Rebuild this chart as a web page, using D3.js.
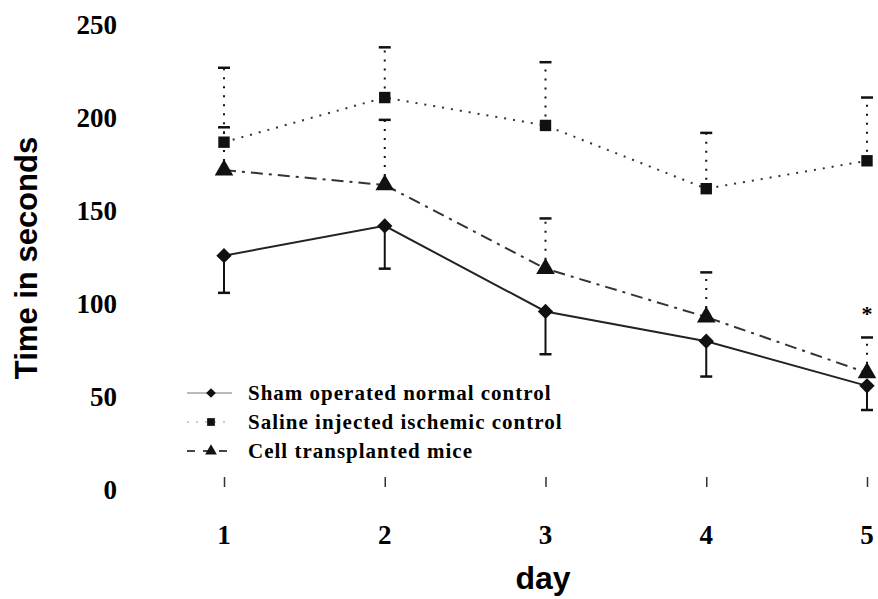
<!DOCTYPE html>
<html>
<head>
<meta charset="utf-8">
<script src="https://cdn.jsdelivr.net/npm/d3@7"></script>
<style>
  body { margin: 0; background: #fff; }
  svg { display: block; }
</style>
</head>
<body>
<svg id="chart" width="878" height="599"></svg>
<script>
// values
var days = [1, 2, 3, 4, 5];
var sham = [126, 142, 96, 80, 56];
var shamLow = [106, 119, 73, 61, 43];
var saline = [187, 211, 196, 162, 177];
var salineHigh = [227, 238, 230, 192, 211];
var cell = [172, 164, 119, 93, 63];
var cellHigh = [195, 199, 146, 117, 82];
var yTicks = [0, 50, 100, 150, 200, 250];
var legendLabels = ["Sham operated normal control", "Saline injected ischemic control", "Cell transplanted mice"];

var svg = d3.select("#chart");

var x = d3.scaleLinear().domain([1, 5]).range([224, 867]);
var y = d3.scaleLinear().domain([0, 250]).range([490, 25]);

// x ticks, no axis line
var xAxis = svg.append("g")
    .attr("transform", "translate(0,477)")
    .call(d3.axisBottom(x).tickValues(days).tickSize(10).tickFormat(""));
xAxis.select(".domain").remove();
xAxis.selectAll(".tick line").attr("stroke", "#333").attr("stroke-width", 1.5);

svg.selectAll(".xlab")
    .data(days)
    .enter().append("text")
    .attr("class", "xlab")
    .attr("x", function(d) { return x(d); })
    .attr("y", 535)
    .attr("dy", "0.35em")
    .attr("text-anchor", "middle")
    .style("font-family", "'Liberation Serif', 'Times New Roman', serif")
    .style("font-weight", "bold")
    .style("font-size", "27px")
    .text(function(d) { return d; });

svg.selectAll(".ylab")
    .data(yTicks)
    .enter().append("text")
    .attr("class", "ylab")
    .attr("x", 117)
    .attr("y", function(d) { return y(d); })
    .attr("dy", "0.35em")
    .attr("text-anchor", "end")
    .style("font-family", "'Liberation Serif', 'Times New Roman', serif")
    .style("font-weight", "bold")
    .style("font-size", "27px")
    .text(function(d) { return d; });

svg.append("text")
    .attr("x", 543)
    .attr("y", 578)
    .attr("dy", "0.35em")
    .attr("text-anchor", "middle")
    .style("font-family", "'Liberation Sans', Arial, sans-serif")
    .style("font-weight", "bold")
    .style("font-size", "32px")
    .text("day");

svg.append("text")
    .attr("transform", "translate(26,258) rotate(-90)")
    .attr("dy", "0.35em")
    .attr("text-anchor", "middle")
    .style("font-family", "'Liberation Sans', Arial, sans-serif")
    .style("font-weight", "bold")
    .style("font-size", "31px")
    .text("Time in seconds");

function drawSeries(vals, ends, dash, barDash, lineColor, shape, size) {
    var pts = days.map(function(d, i) { return { day: d, v: vals[i], e: ends[i] }; });
    var g = svg.append("g");

    g.selectAll(".err")
        .data(pts)
        .enter().append("line")
        .attr("x1", function(d) { return x(d.day); })
        .attr("x2", function(d) { return x(d.day); })
        .attr("y1", function(d) { return y(d.v); })
        .attr("y2", function(d) { return y(d.e); })
        .attr("stroke", "#111")
        .attr("stroke-width", 2)
        .attr("stroke-dasharray", barDash);

    g.selectAll(".cap")
        .data(pts)
        .enter().append("line")
        .attr("x1", function(d) { return x(d.day) - 6; })
        .attr("x2", function(d) { return x(d.day) + 6; })
        .attr("y1", function(d) { return y(d.e); })
        .attr("y2", function(d) { return y(d.e); })
        .attr("stroke", "#111")
        .attr("stroke-width", 2.5);

    var line = d3.line()
        .x(function(d) { return x(d.day); })
        .y(function(d) { return y(d.v); });

    g.append("path")
        .datum(pts)
        .attr("d", line)
        .attr("fill", "none")
        .attr("stroke", lineColor)
        .attr("stroke-width", 2)
        .attr("stroke-dasharray", dash);

    g.selectAll(".pt")
        .data(pts)
        .enter().append("path")
        .attr("transform", function(d) { return "translate(" + x(d.day) + "," + y(d.v) + ")"; })
        .attr("d", d3.symbol().type(shape).size(size))
        .attr("fill", "#111");
}

drawSeries(sham, shamLow, null, null, "#222", d3.symbolDiamond2, 150);
drawSeries(saline, salineHigh, "2,7", "2,7", "#333", d3.symbolSquare, 130);
drawSeries(cell, cellHigh, "12,6,3,6", "2,7", "#333", d3.symbolTriangle, 150);

// significance mark
svg.append("text")
    .attr("x", x(5))
    .attr("y", y(95))
    .attr("dy", "0.35em")
    .attr("text-anchor", "middle")
    .style("font-family", "'Liberation Serif', serif")
    .style("font-weight", "bold")
    .style("font-size", "22px")
    .text("*");

// legend
var legendRows = [
    { label: legendLabels[0], shape: d3.symbolDiamond2, size: 60, dash: null, color: "#bbb" },
    { label: legendLabels[1], shape: d3.symbolSquare, size: 60, dash: "2,7", color: "#ccc" },
    { label: legendLabels[2], shape: d3.symbolTriangle, size: 60, dash: "8,8", color: "#444" }
];

var legend = svg.append("g");
legendRows.forEach(function(r, i) {
    var ly = 393 + i * 29;
    legend.append("line")
        .attr("x1", 187).attr("x2", 232)
        .attr("y1", ly).attr("y2", ly)
        .attr("stroke", r.color)
        .attr("stroke-width", 2)
        .attr("stroke-dasharray", r.dash);
    legend.append("path")
        .attr("transform", "translate(211," + ly + ")")
        .attr("d", d3.symbol().type(r.shape).size(r.size))
        .attr("fill", "#111");
    legend.append("text")
        .attr("x", 248)
        .attr("y", ly)
        .attr("dy", "0.35em")
        .style("font-family", "'Liberation Serif', 'Times New Roman', serif")
        .style("font-weight", "bold")
        .style("font-size", "21px")
        .style("letter-spacing", "1px")
        .text(r.label);
});
</script>
</body>
</html>
